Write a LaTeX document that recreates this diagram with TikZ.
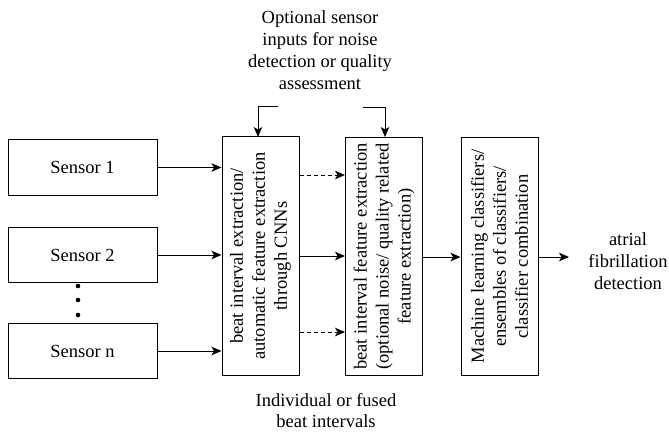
\documentclass[tikz,border=0pt]{standalone}
\usepackage{fontspec}
\setmainfont{Liberation Serif}
\usetikzlibrary{arrows.meta,calc}
\begin{document}
\begin{tikzpicture}[x=1pt,y=1pt,
  every node/.style={font=\fontsize{18.5}{22}\selectfont},
  sensorbox/.style={draw,line width=1pt,minimum width=149pt,minimum height=55pt,inner sep=0pt},
  procbox/.style={draw,line width=1pt,minimum width=77pt,minimum height=238pt,inner sep=0pt},
  rottext/.style={rotate=90,align=center,inner sep=0pt},
  plain/.style={align=center,inner sep=0pt},
  arr/.style={line width=1pt,-{Stealth[length=10pt,width=8.5pt,inset=2.5pt]}},
  darr/.style={arr,dash pattern=on 4pt off 3pt}
]
\useasboundingbox (0,0) rectangle (669,-433);
\node[sensorbox] (s1) at (82.5,-167.5) {Sensor 1};
\node[sensorbox] (s2) at (82.5,-255) {Sensor 2};
\node[sensorbox] (sn) at (82.5,-351) {Sensor n};
\foreach \yy in {286,300,315} \fill (78,-\yy) circle (2.3pt);

\node[procbox] (a) at (260.5,-256) {};
\node[rottext] at (a.center) {beat interval extraction/\\automatic feature extraction\\through CNNs};
\node[procbox] (b) at (384,-256.5) {};
\node[rottext] at (b.center) {beat interval feature extraction\\(optional noise/ quality related\\feature extraction)};
\node[procbox] (c) at (499.5,-256.5) {};
\node[rottext] at (c.center) {Machine learning classifiers/\\ensembles of classifiers/\\classifier combination};

\node[plain] (top) at (320,-50) {Optional sensor\\inputs for noise\\detection or quality\\assessment};
\node[plain,font=\fontsize{18.5}{21}\selectfont] (bot) at (326,-411) {Individual or fused\\beat intervals};
\node[plain] (out) at (628,-261) {atrial\\fibrillation\\detection};

\draw[arr] (s1.east) -- (s1.east -| a.west);
\draw[arr] (s2.east) -- (s2.east -| a.west);
\draw[arr] (sn.east) -- (sn.east -| a.west);

\draw[darr] ($(a.east)+(0,81)$) -- ($(b.west)+(0,81.5)$);
\draw[arr] (a.east) -- (a.east -| b.west);
\draw[darr] ($(a.east)+(0,-76)$) -- ($(b.west)+(0,-75.5)$);

\draw[arr] ($(b.east)+(0,-0.5)$) -- ($(c.west)+(0,-0.5)$);
\draw[arr] ($(c.east)+(0,-0.5)$) -- (569,-257);

\coordinate (ta) at (278,-107);
\coordinate (tb) at (363,-108);
\draw[arr] (ta) -- (258,-107) -- (258,-137);
\draw[arr] (tb) -- (385,-108) -- (385,-137);
\end{tikzpicture}
\end{document}
